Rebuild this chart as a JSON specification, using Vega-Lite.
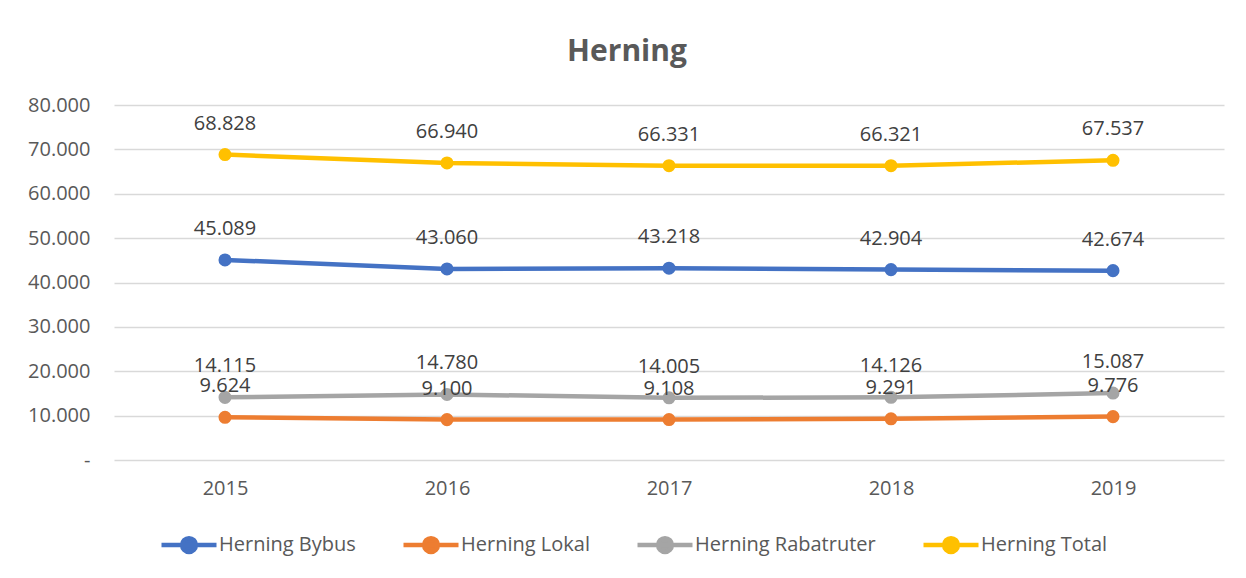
{
  "$schema": "https://vega.github.io/schema/vega-lite/v6.json",
  "width": 1110,
  "height": 355,
  "autosize": "none",
  "padding": {"left": 114, "top": 105, "right": 22, "bottom": 118},
  "background": "#ffffff",
  "title": {"text": "Herning", "font": "Open Sans", "fontSize": 30, "fontWeight": "bold", "color": "#595959", "anchor": "middle", "dx": -42, "offset": 28},
  "data": {"values": [
    {"year": "2015", "series": "Herning Bybus", "v": 45089},
    {"year": "2016", "series": "Herning Bybus", "v": 43060},
    {"year": "2017", "series": "Herning Bybus", "v": 43218},
    {"year": "2018", "series": "Herning Bybus", "v": 42904},
    {"year": "2019", "series": "Herning Bybus", "v": 42674},
    {"year": "2015", "series": "Herning Lokal", "v": 9624},
    {"year": "2016", "series": "Herning Lokal", "v": 9100},
    {"year": "2017", "series": "Herning Lokal", "v": 9108},
    {"year": "2018", "series": "Herning Lokal", "v": 9291},
    {"year": "2019", "series": "Herning Lokal", "v": 9776},
    {"year": "2015", "series": "Herning Rabatruter", "v": 14115},
    {"year": "2016", "series": "Herning Rabatruter", "v": 14780},
    {"year": "2017", "series": "Herning Rabatruter", "v": 14005},
    {"year": "2018", "series": "Herning Rabatruter", "v": 14126},
    {"year": "2019", "series": "Herning Rabatruter", "v": 15087},
    {"year": "2015", "series": "Herning Total", "v": 68828},
    {"year": "2016", "series": "Herning Total", "v": 66940},
    {"year": "2017", "series": "Herning Total", "v": 66331},
    {"year": "2018", "series": "Herning Total", "v": 66321},
    {"year": "2019", "series": "Herning Total", "v": 67537}
  ]},
  "encoding": {
    "x": {"field": "year", "type": "ordinal", "scale": {"type": "point", "padding": 0.5},
      "axis": {"title": null, "labelAngle": 0, "domain": false, "ticks": false, "labelPadding": 18, "labelFontSize": 20, "labelFont": "Open Sans", "labelColor": "#595959", "grid": false}},
    "y": {"field": "v", "type": "quantitative", "scale": {"domain": [0, 80000], "nice": false},
      "axis": {"title": null, "values": [0, 10000, 20000, 30000, 40000, 50000, 60000, 70000, 80000], "labelExpr": "datum.value == 0 ? '-' : format(datum.value, ',')", "domain": false, "ticks": false, "labelPadding": 24, "labelFontSize": 20, "labelFont": "Open Sans", "labelColor": "#595959", "grid": true, "gridColor": "#d9d9d9", "gridWidth": 1.5}},
    "color": {"field": "series", "type": "nominal",
      "scale": {"domain": ["Herning Bybus", "Herning Lokal", "Herning Rabatruter", "Herning Total"], "range": ["#4472C4", "#ED7D31", "#A5A5A5", "#FFC000"]}}
  },
  "layer": [
    {"mark": {"type": "line", "strokeWidth": 4.5},
      "encoding": {"color": {"field": "series", "type": "nominal",
        "legend": {"orient": "none", "legendX": 45, "legendY": 410, "direction": "horizontal", "title": null,
          "symbolType": "M-1,0L1,0M-0.25,0A0.25,0.25,0,1,0,0.25,0A0.25,0.25,0,1,0,-0.25,0Z",
          "symbolSize": 3025, "symbolStrokeWidth": 4.5, "labelFontSize": 20, "labelFont": "Open Sans", "labelColor": "#595959", "labelOffset": 0, "labelLimit": 400, "columnPadding": 38,
          "encode": {"symbols": {"update": {"fill": {"scale": "color", "field": "value"}, "stroke": {"scale": "color", "field": "value"}}}}}}}},
    {"mark": {"type": "point", "filled": true, "size": 170, "opacity": 1},
      "encoding": {"color": {"field": "series", "type": "nominal", "legend": null}}},
    {"mark": {"type": "text", "dy": -31, "fontSize": 20, "font": "Open Sans", "color": "#404040"},
      "encoding": {"text": {"field": "v", "type": "quantitative", "format": ","}, "color": {"value": "#404040"}}}
  ],
  "config": {
    "locale": {"number": {"decimal": ",", "thousands": ".", "grouping": [3], "currency": ["", " kr."]}},
    "view": {"stroke": null}
  }
}
